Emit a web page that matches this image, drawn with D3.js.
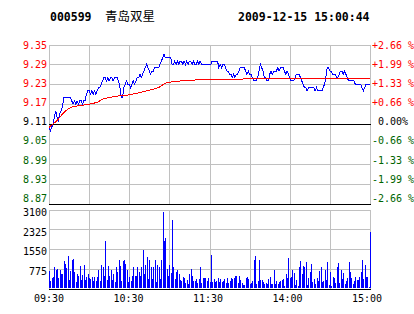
<!DOCTYPE html>
<html lang="zh">
<head>
<meta charset="UTF-8">
<title>000599 青岛双星 分时走势</title>
<script src="https://d3js.org/d3.v7.min.js"></script>
<style>
    body { margin: 0; background: #fff; }
    svg { display: block; }
    .lbl { font-family: "DejaVu Sans Mono", monospace; font-size: 10px; }
    .head { font-family: "DejaVu Sans Mono", monospace; font-size: 11.5px; font-weight: bold; }
</style>
</head>
<body>
<svg id="chart" width="414" height="314"></svg>
<script>
    // header
    const stockCode = "000599";
    const stockName = "青岛双星";
    const stamp = "2009-12-15 15:00:44";

    // axes
    const prevClose = 9.11;
    const priceTicks = [9.35, 9.29, 9.23, 9.17, 9.11, 9.05, 8.99, 8.93, 8.87];
    const pctTicks = ["+2.66 %", "+1.99 %", "+1.33 %", "+0.66 %", " 0.00%", "-0.66 %", "-1.33 %", "-1.99 %", "-2.66 %"];
    const volTicks = [3100, 2325, 1550, 775];
    const timeLabels = ["09:30", "10:30", "11:30", "14:00", "15:00"];

    // last price per minute (09:30-11:30, 13:01-15:00)
    const price = [
        9.10, 9.09, 9.10, 9.11, 9.13, 9.15, 9.13, 9.12, 9.14, 9.15,
        9.16, 9.19, 9.19, 9.19, 9.19, 9.19, 9.19, 9.18, 9.17, 9.18,
        9.17, 9.18, 9.17, 9.18, 9.18, 9.17, 9.18, 9.18, 9.20, 9.21,
        9.21, 9.20, 9.21, 9.20, 9.21, 9.20, 9.21, 9.22, 9.22, 9.23,
        9.24, 9.25, 9.25, 9.24, 9.25, 9.24, 9.25, 9.25, 9.24, 9.25,
        9.25, 9.25, 9.24, 9.22, 9.19, 9.19, 9.22, 9.23, 9.24, 9.23,
        9.23, 9.22, 9.23, 9.24, 9.23, 9.24, 9.25, 9.25, 9.26, 9.25,
        9.26, 9.27, 9.28, 9.29, 9.28, 9.27, 9.26, 9.27, 9.27, 9.28,
        9.28, 9.28, 9.28, 9.29, 9.30, 9.31, 9.32, 9.31, 9.31, 9.31,
        9.31, 9.31, 9.29, 9.29, 9.30, 9.29, 9.30, 9.29, 9.30, 9.30,
        9.29, 9.30, 9.29, 9.30, 9.29, 9.30, 9.30, 9.29, 9.30, 9.29,
        9.29, 9.30, 9.29, 9.30, 9.29, 9.29, 9.29, 9.29, 9.29, 9.29,
        9.29, 9.29, 9.30, 9.30, 9.30, 9.30, 9.30, 9.28, 9.29, 9.28,
        9.29, 9.29, 9.28, 9.27, 9.27, 9.26, 9.26, 9.25, 9.26, 9.25,
        9.26, 9.26, 9.27, 9.28, 9.28, 9.28, 9.28, 9.27, 9.26, 9.27,
        9.26, 9.26, 9.25, 9.24, 9.24, 9.24, 9.25, 9.27, 9.29, 9.28,
        9.27, 9.25, 9.25, 9.24, 9.24, 9.26, 9.27, 9.26, 9.27, 9.27,
        9.27, 9.28, 9.27, 9.28, 9.28, 9.28, 9.27, 9.26, 9.27, 9.26,
        9.25, 9.24, 9.24, 9.24, 9.25, 9.26, 9.26, 9.26, 9.25, 9.24,
        9.23, 9.22, 9.22, 9.21, 9.22, 9.22, 9.22, 9.22, 9.22, 9.21,
        9.22, 9.21, 9.21, 9.21, 9.21, 9.22, 9.23, 9.25, 9.28, 9.28,
        9.27, 9.27, 9.26, 9.26, 9.26, 9.25, 9.25, 9.26, 9.27, 9.27,
        9.26, 9.27, 9.26, 9.25, 9.24, 9.24, 9.24, 9.24, 9.24, 9.23,
        9.23, 9.23, 9.23, 9.23, 9.22, 9.21, 9.22, 9.23, 9.23, 9.23, 9.23
    ];

    // volume per minute (hands)
    const volume = [
        670, 290, 420, 470, 840, 710, 750, 400, 730, 580,
        550, 1060, 970, 820, 1260, 350, 670, 1100, 1160, 640,
        250, 550, 510, 880, 350, 540, 940, 340, 450, 550,
        420, 380, 470, 280, 470, 310, 450, 710, 310, 930,
        840, 510, 1880, 350, 900, 510, 710, 350, 550, 250,
        860, 640, 1120, 900, 290, 1060, 1120, 970, 730, 250,
        470, 310, 500, 860, 510, 510, 840, 640, 510, 860,
        1520, 550, 940, 1230, 380, 1100, 860, 380, 860, 1100,
        250, 930, 840, 380, 1100, 3020, 1880, 1990, 770, 510,
        930, 600, 2670, 840, 380, 640, 710, 580, 340, 310,
        450, 420, 210, 340, 180, 550, 750, 510, 290, 310,
        370, 210, 380, 860, 210, 420, 420, 420, 310, 420,
        250, 1300, 250, 380, 250, 310, 420, 250, 370, 250,
        310, 370, 210, 420, 210, 310, 420, 370, 420, 500,
        510, 210, 510, 340, 210, 120, 120, 420, 470, 370,
        180, 210, 310, 1120, 1260, 180, 310, 1120, 340, 340,
        250, 160, 210, 160, 380, 450, 180, 180, 730, 160,
        290, 180, 250, 310, 340, 380, 80, 580, 420, 1200,
        420, 450, 710, 600, 120, 340, 80, 860, 1060, 580,
        900, 860, 1030, 120, 420, 640, 970, 250, 380, 180,
        420, 310, 680, 860, 250, 290, 710, 340, 1030, 120,
        640, 80, 450, 420, 210, 860, 990, 210, 710, 380,
        600, 160, 290, 420, 1030, 640, 420, 160, 290, 470,
        340, 340, 470, 640, 1100, 380, 940, 470, 450, 60, 2210
    ];

    // average price, read at these minutes
    const avgMinute = [0, 3, 6, 10, 14, 18, 24, 30, 36, 40, 45, 52, 60, 68, 76, 82, 85, 88, 95, 110, 125, 150, 180, 210, 240];
    const avgPrice = [9.10, 9.11, 9.12, 9.14, 9.155, 9.163, 9.166, 9.17, 9.175, 9.185, 9.19, 9.195, 9.198,
        9.205, 9.213, 9.22, 9.228, 9.235, 9.239, 9.243, 9.245, 9.246, 9.247, 9.248, 9.248];

    const svg = d3.select("#chart");
    const crisp = v => Math.round(v) + 0.5;

    const left = 49, right = 370;
    const x = d3.scaleLinear().domain([0, 240]).range([left, right]);
    const y = d3.scaleLinear().domain([8.87, 9.35]).range([203.5, 44.5]);
    const yv = d3.scaleLinear().domain([0, 3100]).range([288.5, 209.5]);
    // label placement is spread a bit differently from the grid in the original
    const yLab = d3.scaleLinear().domain([8.87, 9.35]).range([198, 45.7]);
    const yvLab = d3.scaleLinear().domain([0, 3100]).range([290.4, 212.7]);
    const tLab = d3.scaleLinear().domain([0, timeLabels.length - 1]).range([49, 367]);

    const gray = "#c0c0c0", red = "#ff0000", green = "#006400";

    // ---- header ----
    svg.append("text").attr("class", "head").attr("x", 50).attr("y", 20.5).text(stockCode);
    svg.append("text").attr("x", 105).attr("y", 21)
        .style("font-family", '"Noto Sans CJK SC", sans-serif').style("font-size", "12.5px")
        .text(stockName);
    svg.append("text").attr("class", "head").attr("x", 238).attr("y", 20.5).text(stamp);

    // ---- grid ----
    const minutes = d3.range(0, 241, 30);
    const g = svg.append("g").attr("shape-rendering", "crispEdges");

    // verticals in both panels
    minutes.forEach(m => {
        g.append("line").attr("x1", crisp(x(m))).attr("x2", crisp(x(m)))
            .attr("y1", y(9.35)).attr("y2", y(8.87)).attr("stroke", gray);
        g.append("line").attr("x1", crisp(x(m))).attr("x2", crisp(x(m)))
            .attr("y1", yv(3100)).attr("y2", yv(0)).attr("stroke", gray);
    });

    priceTicks.forEach(p => {
        const isBlack = p === prevClose || p === 8.87;
        g.append("line").attr("x1", left).attr("x2", crisp(x(240)) + 0.5)
            .attr("y1", crisp(y(p))).attr("y2", crisp(y(p)))
            .attr("stroke", isBlack ? "#000" : gray)
            .attr("stroke-width", p === 8.87 ? 1.5 : 1);
    });

    volTicks.forEach(v => {
        g.append("line").attr("x1", left).attr("x2", crisp(x(240)) + 0.5)
            .attr("y1", crisp(yv(v))).attr("y2", crisp(yv(v))).attr("stroke", gray);
    });
    g.append("line").attr("x1", left).attr("x2", crisp(x(240)) + 0.5)
        .attr("y1", crisp(yv(0))).attr("y2", crisp(yv(0)))
        .attr("stroke", "#000").attr("stroke-width", 1.5);

    // ---- labels ----
    const tickColor = p => p > prevClose ? red : (p < prevClose ? green : "#000");

    svg.selectAll(".plab").data(priceTicks).enter().append("text")
        .attr("class", "lbl plab")
        .attr("x", 47).attr("y", d => yLab(d)).attr("dy", "0.36em")
        .attr("text-anchor", "end").attr("fill", tickColor)
        .text(d => d.toFixed(2));

    svg.selectAll(".pct").data(pctTicks).enter().append("text")
        .attr("class", "lbl pct")
        .attr("x", 372).attr("y", (d, i) => yLab(priceTicks[i])).attr("dy", "0.36em")
        .attr("fill", (d, i) => tickColor(priceTicks[i]))
        .style("white-space", "pre")
        .text(d => d);

    svg.selectAll(".vlab").data(volTicks).enter().append("text")
        .attr("class", "lbl vlab")
        .attr("x", 47).attr("y", d => yvLab(d)).attr("dy", "0.36em")
        .attr("text-anchor", "end").attr("fill", "#000")
        .text(d => d);

    svg.selectAll(".tlab").data(timeLabels).enter().append("text")
        .attr("class", "lbl tlab")
        .attr("x", (d, i) => tLab(i)).attr("y", 298).attr("dy", "0.36em")
        .attr("text-anchor", "middle").attr("fill", "#000")
        .text(d => d);

    // ---- volume bars ----
    svg.append("g").attr("shape-rendering", "crispEdges")
        .selectAll("rect").data(volume).enter().append("rect")
        .attr("x", (d, i) => Math.round(x(i)))
        .attr("width", 1)
        .attr("y", d => yv(d))
        .attr("height", d => yv(0) - 0.5 - yv(d))
        .attr("fill", "#0000ff");

    // ---- price & average lines (aliased like the original) ----
    const priceLine = d3.line().x((d, i) => x(i)).y(d => y(d));
    svg.append("path").datum(price)
        .attr("d", priceLine)
        .attr("shape-rendering", "crispEdges")
        .attr("fill", "none").attr("stroke", "#0000ff").attr("stroke-width", 1);

    const avgLine = d3.line().x(d => x(d[0])).y(d => y(d[1]));
    svg.append("path").datum(avgMinute.map((m, i) => [m, avgPrice[i]]))
        .attr("d", avgLine)
        .attr("shape-rendering", "crispEdges")
        .attr("fill", "none").attr("stroke", red).attr("stroke-width", 1);
</script>
</body>
</html>
